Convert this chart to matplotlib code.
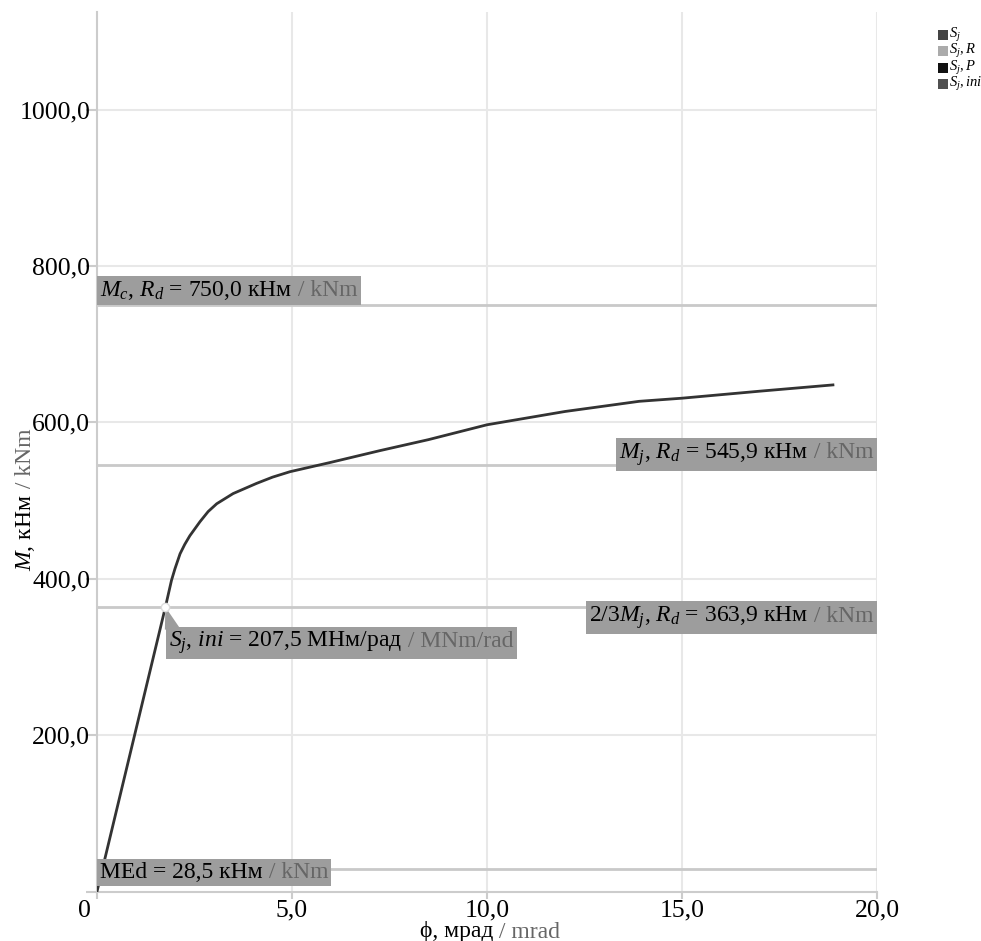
import matplotlib
matplotlib.use('Agg')
import matplotlib.pyplot as plt
from matplotlib.patches import Polygon, Rectangle
from matplotlib.transforms import Bbox, ScaledTranslation

plt.rcParams['font.family'] = ['Liberation Serif', 'DejaVu Serif']
plt.rcParams['mathtext.fontset'] = 'custom'
plt.rcParams['mathtext.rm'] = 'Liberation Serif'
plt.rcParams['mathtext.it'] = 'Liberation Serif:italic'

# curve M-phi (mrad, kNm)
phi = [0.0, 1.754, 1.91, 2.0, 2.13, 2.25, 2.38, 2.64, 2.85, 3.07, 3.49, 4.09, 4.5, 4.95,
       6.0, 7.26, 8.5, 10.0, 12.0, 13.9, 15.0, 17.0, 18.87]
moment = [0.0, 363.9, 398, 413, 432, 444, 455, 473, 486, 496, 509, 522, 530, 537,
          549, 564, 578, 597, 614, 627, 631, 640, 648]

# reference levels
M_cRd = 750.0
M_jRd = 545.9
M_23 = 363.9
M_Ed = 28.5
S_ini = 207.5

x_ticks = [0, 5, 10, 15, 20]
x_labels = ['0', '5,0', '10,0', '15,0', '20,0']
y_ticks = [0, 200, 400, 600, 800, 1000]
y_labels = ['', '200,0', '400,0', '600,0', '800,0', '1000,0']

legend_labels = ['$S_j$', '$S_j, R$', '$S_j, P$', '$S_j, ini$']
legend_colors = ['#444444', '#ababab', '#111111', '#505050']

BOX = '#9d9d9d'
UNIT = '#666666'
LINE = '#c9c9c9'
GRID = '#e8e8e8'
FS = 17
TFS = 18.5

fig = plt.figure(figsize=(9.81, 9.41), dpi=100)
ax = fig.add_axes([97 / 981, 1 - 891.5 / 941, 780 / 981, 879.5 / 941])
ax.set_xlim(0, 20)
ax.set_ylim(0, 1125)

for x in x_ticks[1:]:
    ax.axvline(x, color=GRID, lw=1.5, zorder=0)
for y in y_ticks[1:]:
    ax.axhline(y, color=GRID, lw=1.5, zorder=0)

for v in [M_cRd, M_jRd, M_23, M_Ed]:
    ax.axhline(v, color=LINE, lw=2, zorder=1)

ax.plot(phi, moment, color='#333333', lw=2, zorder=3)

for s in ['top', 'right']:
    ax.spines[s].set_visible(False)
for s in ['left', 'bottom']:
    ax.spines[s].set_color('#cccccc')
    ax.spines[s].set_linewidth(1.5)
ax.set_xticks(x_ticks)
ax.set_xticklabels(x_labels, fontsize=TFS)
ax.set_yticks(y_ticks)
ax.set_yticklabels(y_labels, fontsize=TFS)
ax.tick_params(axis='both', colors='#cccccc', labelcolor='black', width=1.5)
ax.tick_params(axis='y', length=8, pad=-3)
ax.tick_params(axis='x', length=5, pad=1)
# the "0" sits a bit left of the axis in the original
zero = ax.get_xticklabels()[0]
zero.set_transform(zero.get_transform() + ScaledTranslation(-13 / 100, 0, fig.dpi_scale_trans))

fig.canvas.draw()
r = fig.canvas.get_renderer()
k = 72.0 / fig.dpi


def label_box(x, y, main, unit, ha='left', dx=3, pad=3):
    # measure both parts, then place them side by side on one baseline
    t1 = ax.text(0, 0, main, fontsize=FS)
    t2 = ax.text(0, 0, ' / ' + unit, fontsize=FS)
    w1 = t1.get_window_extent(r).width
    w2 = t2.get_window_extent(r).width
    t1.remove()
    t2.remove()
    start = dx if ha == 'left' else -dx - w1 - w2
    a1 = ax.annotate(main, (x, y), xytext=(start * k, 0), textcoords='offset points',
                     fontsize=FS, va='baseline', ha='left', color='black', zorder=5)
    a2 = ax.annotate(' / ' + unit, (x, y), xytext=((start + w1) * k, 0), textcoords='offset points',
                     fontsize=FS, va='baseline', ha='left', color=UNIT, zorder=5)
    bb = Bbox.union([a1.get_window_extent(r), a2.get_window_extent(r)])
    bb = Bbox.from_extents(bb.x0 - pad, bb.y0 - pad, bb.x1 + pad, bb.y1 + pad)
    bb = ax.transAxes.inverted().transform_bbox(bb)
    ax.add_patch(Rectangle((bb.x0, bb.y0), bb.width, bb.height, transform=ax.transAxes,
                           fc=BOX, ec='none', zorder=4, clip_on=False))


label_box(0, M_cRd + 12, '$M_c$, $R_d$ = 750,0 кНм', 'kNm')
label_box(20, M_jRd + 8, '$M_j$, $R_d$ = 545,9 кНм', 'kNm', ha='right')
label_box(20, M_23 - 19, '2/3$M_j$, $R_d$ = 363,9 кНм', 'kNm', ha='right')
label_box(0, M_Ed - 11, 'MEd = 28,5 кНм', 'kNm')

# callout for initial stiffness
tip_x = M_23 / S_ini
ax.add_patch(Polygon([[tip_x, M_23], [1.74, 335], [2.15, 335]], closed=True,
                     fc=BOX, ec='none', zorder=4))
label_box(1.74, 312.6, '$S_j$, $ini$ = 207,5 МНм/рад', 'MNm/rad', dx=4)
ax.plot([tip_x], [M_23], 'o', ms=6, mfc='white', mec='#dddddd', zorder=6)


# axis titles in two colours
def two_tone(xf, yf, main, unit, rot=0):
    t1 = fig.text(0, 0, main, fontsize=FS)
    t2 = fig.text(0, 0, ' / ' + unit, fontsize=FS)
    w1 = t1.get_window_extent(r).width
    w2 = t2.get_window_extent(r).width
    t1.remove()
    t2.remove()
    W, H = fig.bbox.width, fig.bbox.height
    if rot == 0:
        x0 = xf - (w1 + w2) / 2 / W
        fig.text(x0, yf, main, fontsize=FS, va='baseline')
        fig.text(x0 + w1 / W, yf, ' / ' + unit, fontsize=FS, va='baseline', color=UNIT)
    else:
        y0 = yf - (w1 + w2) / 2 / H
        fig.text(xf, y0, main, fontsize=FS, rotation=90, rotation_mode='anchor', va='baseline')
        fig.text(xf, y0 + w1 / H, ' / ' + unit, fontsize=FS, rotation=90,
                 rotation_mode='anchor', va='baseline', color=UNIT)


two_tone(490 / 981, 1 - 937.5 / 941, 'ϕ, мрад', 'mrad')
two_tone(31 / 981, 1 - 500 / 941, '$M$, кНм', 'kNm', rot=90)

# legend drawn by hand, tight like the original
for i, (lab, col) in enumerate(zip(legend_labels, legend_colors)):
    yc = 1 - (35 + 16.5 * i) / 941
    fig.patches.append(Rectangle((938 / 981, yc - 5 / 941), 10 / 981, 10 / 941,
                                 transform=fig.transFigure, fc=col, ec='none'))
    fig.text(949 / 981, yc, lab, fontsize=10.5, va='center', ha='left')

fig.savefig('out.png', dpi=100)
